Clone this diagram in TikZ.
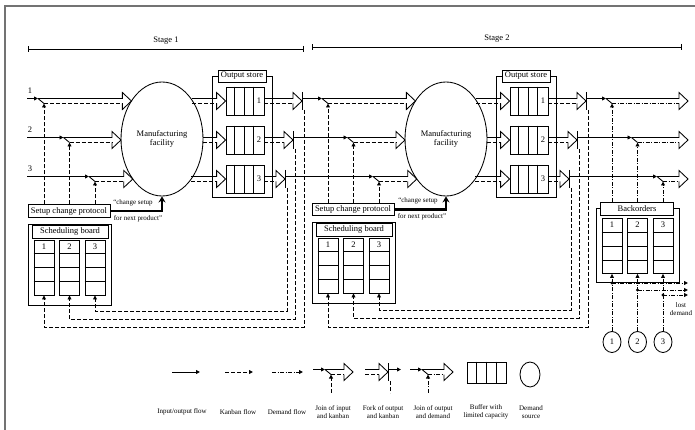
\documentclass[tikz,border=0pt]{standalone}
\usepackage{fontspec}
\setmainfont{Liberation Serif}
\usetikzlibrary{arrows.meta,positioning,calc,shapes.geometric}

% hollow double arrow: top line start, bottom line start, tip
\newcommand{\fatarrow}[4][kb]{%
  \draw[io] (#2) -- ($(#4)+(-9,-2.5)$) -- ($(#4)+(-9,-8.5)$) -- (#4)
    -- ($(#4)+(-9,8.5)$) -- ($(#4)+(-9,2.5)$);
  \draw[#1] (#3) -- ($(#4)+(-9,2.5)$);}

\begin{document}
\begin{tikzpicture}[x=1pt,y=-1pt,
  io/.style={line width=0.85pt},
  kb/.style={io,dash pattern=on 4pt off 2pt},
  dm/.style={io,dash pattern=on 4pt off 1.5pt on 1pt off 1.5pt},
  arr/.style={-{Triangle[length=4pt,width=3.8pt]}},
  setuparr/.style={line width=2.2pt,-{Stealth[length=6pt,width=7pt,inset=2pt]}},
  lbl/.style={font=\fontsize{8.5}{9.5}\selectfont,inner sep=1pt},
  note/.style={font=\fontsize{7}{8}\selectfont,inner sep=1pt,align=center},
  box/.style={draw,io,fill=white,lbl,inner sep=0pt},
  facility/.style={draw,io,ellipse,minimum width=82pt,minimum height=114pt,inner sep=0pt,align=center,lbl},
  buffer/.style={draw,io,minimum width=38pt,minimum height=28pt,inner sep=0pt},
  column/.style={draw,io,minimum width=20pt,minimum height=55pt,inner sep=0pt},
  source/.style={draw,io,ellipse,minimum width=18pt,minimum height=21pt,inner sep=0pt,lbl}
]
\useasboundingbox (0,0) rectangle (695,430);
\draw[line width=1.2pt,black!55] (5,430) -- (5,6) -- (695,6);

% stages
\draw[io,{Bar[width=6pt]}-{Bar[width=6pt]}] (28,49) -- node[lbl,above=3pt] (st1) {Stage 1} (304,49);
\draw[io,{Bar[width=6pt]}-{Bar[width=6pt]}] (312,47) -- node[lbl,above=3pt] (st2) {Stage 2} (682,47);

% manufacturing facilities
\node[facility] (mf1) at (162,139) {Manufacturing\\facility};
\node[facility] (mf2) at (446,139) {Manufacturing\\facility};

% output stores
\draw[io] (212,76) rectangle (272,197);
\draw[io] (496,76) rectangle (556,197);
\node[box,minimum width=48pt,minimum height=12pt] (os1) at (242,76) {Output store};
\node[box,minimum width=48pt,minimum height=12pt] (os2) at (526,76) {Output store};
\foreach \s/\x in {1/245,2/529} \foreach \i/\y in {1/101,2/140,3/179} {
  \node[buffer] (b\s\i) at (\x,\y) {};
  \foreach \f in {0.237,0.474,0.711}
    \draw[io] ($(b\s\i.north west)!\f!(b\s\i.north east)$) -- ($(b\s\i.south west)!\f!(b\s\i.south east)$);
  \node[lbl] (bn\s\i) at ($(b\s\i.east)+(-5.5,0)$) {\i};
}

% setup change protocols and boards
\node[box,minimum width=82pt,minimum height=12.5pt] (sc1) at (69,211) {Setup change protocol};
\node[box,minimum width=82pt,minimum height=12.5pt] (sc2) at (353,209.5) {Setup change protocol};
\draw[io] (28,224) rectangle (111,305);
\draw[io] (312,222) rectangle (395,303);
\draw[io] (596,208) rectangle (679,282);
\node[box,minimum width=76pt,minimum height=13pt] (sched1) at (70,231.5) {Scheduling board};
\node[box,minimum width=76pt,minimum height=13pt] (sched2) at (354,229.5) {Scheduling board};
\node[box,minimum width=73pt,minimum height=13pt] (bo) at (637,208.5) {Backorders};
\foreach \n/\x/\y in {ca/44/267.5, cb/328/265.5, cc/612/246} \foreach \i in {1,2,3} {
  \node[column] (\n\i) at (\x+25.5*\i-25.5,\y) {};
  \foreach \f in {0.255,0.5,0.75}
    \draw[io] ($(\n\i.north west)!\f!(\n\i.south west)$) -- ($(\n\i.north east)!\f!(\n\i.south east)$);
  \node[lbl] (\n n\i) at ($(\n\i.north)+(0,7)$) {\i};
}

% stage 1 flows
\foreach \i/\y/\c/\ta/\oa/\f/\h in {1/101/44/131.4/192/302/327, 2/140/69.5/121/203/293/319, 3/179/95/132.8/191/285/311} {
  \node[lbl] (in\i n) at (30,\y-10) {\i};
  \coordinate (in\i) at (27,\y-2.5);
  \coordinate (ja\i) at (\c-6,\y-2.5);
  \coordinate (ka\i) at (\c,\y+2.5);
  \coordinate (ta\i) at (\ta,\y);
  \coordinate (oa\i) at (\oa,\y);
  \coordinate (fa\i) at (\f,\y);
  \draw[io,arr] (in\i) -- (ja\i);
  \draw[io] (ja\i) -- (ka\i);
  \draw[kb,arr] (ka\i |- sc1.north) -- (ka\i);
  \fatarrow{ja\i}{ka\i}{ta\i}
  \fatarrow{$(oa\i)+(0,-2.5)$}{$(oa\i)+(0,2.5)$}{b1\i.west}
  \fatarrow{$(b1\i.east)+(0,-2.5)$}{$(b1\i.east)+(0,2.5)$}{fa\i}
  \draw[io] ($(fa\i)+(0,-9)$) -- ($(fa\i)+(0,9)$);
  \draw[kb,arr] ($(fa\i)+(2,9)$) -- (\f+2,\h) -| (ca\i.south);
}

% stage 2 flows
\foreach \i/\y/\c/\ta/\oa/\f/\h in {1/101/328/415.4/476/586/327, 2/140/353.5/405/487/577/318, 3/179/379/416.8/475/569/310} {
  \coordinate (jb\i) at (\c-6,\y-2.5);
  \coordinate (kk\i) at (\c,\y+2.5);
  \coordinate (tb\i) at (\ta,\y);
  \coordinate (ob\i) at (\oa,\y);
  \coordinate (fb\i) at (\f,\y);
  \coordinate (jc\i) at (\c+278,\y-2.5);
  \coordinate (kc\i) at (\c+284,\y+2.5);
  \coordinate (tc\i) at (688,\y);
  \draw[io,arr] ($(fa\i)+(0,-2.5)$) -- (jb\i);
  \draw[io] (jb\i) -- (kk\i);
  \draw[kb,arr] (kk\i |- sc2.north) -- (kk\i);
  \fatarrow{jb\i}{kk\i}{tb\i}
  \fatarrow{$(ob\i)+(0,-2.5)$}{$(ob\i)+(0,2.5)$}{b2\i.west}
  \fatarrow{$(b2\i.east)+(0,-2.5)$}{$(b2\i.east)+(0,2.5)$}{fb\i}
  \draw[io] ($(fb\i)+(0,-9)$) -- ($(fb\i)+(0,9)$);
  \draw[kb,arr] ($(fb\i)+(2,9)$) -- (\f+2,\h) -| (cb\i.south);
  \draw[io,arr] ($(fb\i)+(0,-2.5)$) -- (jc\i);
  \draw[io] (jc\i) -- (kc\i);
  \draw[dm,arr] (kc\i |- bo.north) -- (kc\i);
  \fatarrow[dm]{jc\i}{kc\i}{tc\i}
}

% demand sources and lost demand
\foreach \i/\x/\l in {1/612/283, 2/637.5/290, 3/663/295} {
  \node[source] (ds\i) at (\x,342) {\i};
  \draw[dm,arr] (ds\i.north) -- (cc\i.south);
  \coordinate (ld\i) at (\x,\l);
  \fill (ld\i) circle (1.7);
  \draw[dm,arr] (ld\i) -- (688,\l);
}
\node[note] (lost) at (681,309) {lost\\demand};

% setup changes
\draw[setuparr] (sc1.east) -| (mf1.south);
\node[note] (cs1) at (133,203) {“change setup};
\node[note] (np1) at (138,218.5) {for next product”};
\draw[setuparr] (sc2.east) -| (mf2.south);
\node[note] (cs2) at (418,201) {“change setup};
\node[note] (np2) at (422,216.5) {for next product”};

% legend
\coordinate (lio) at (172,372);
\draw[io,arr] (lio) -- ++(28,0);
\coordinate (lkb) at (225,372);
\draw[kb,arr] (lkb) -- ++(28,0);
\coordinate (ldm) at (272,372);
\draw[dm,arr] (ldm) -- ++(31,0);
\coordinate (lja) at (325,369.5);
\coordinate (lka) at (331,374.5);
\coordinate (lta) at (353,372);
\draw[io,arr] ($(lja)+(-12,0)$) -- (lja);
\draw[io] (lja) -- (lka);
\draw[kb,arr] ($(lka)+(0,18)$) -- (lka);
\fatarrow{lja}{lka}{lta}
\coordinate (lfa) at (388,372);
\fatarrow{$(lfa)+(-23,-2.5)$}{$(lfa)+(-23,2.5)$}{lfa}
\draw[io] ($(lfa)+(0,-9)$) -- ($(lfa)+(0,9)$);
\draw[io,arr] ($(lfa)+(0,-2.5)$) -- ++(13,0);
\draw[kb] ($(lfa)+(2,9)$) -- ++(0,12);
\coordinate (ljd) at (422,369.5);
\coordinate (lkd) at (428,374.5);
\coordinate (ltd) at (453,372);
\draw[io,arr] ($(ljd)+(-12,0)$) -- (ljd);
\draw[io] (ljd) -- (lkd);
\draw[dm,arr] ($(lkd)+(0,18)$) -- (lkd);
\fatarrow[dm]{ljd}{lkd}{ltd}
\node[buffer,minimum width=39pt,minimum height=21pt] (lbf) at (486.5,372.5) {};
\foreach \f in {0.25,0.5,0.75}
  \draw[io] ($(lbf.north west)!\f!(lbf.north east)$) -- ($(lbf.south west)!\f!(lbf.south east)$);
\node[source,minimum width=20pt,minimum height=25pt] (lds) at (530,374.5) {};
\node[note] (t1) at (182,412) {Input/output flow};
\node[note] (t2) at (238,412) {Kanban flow};
\node[note] (t3) at (287,412) {Demand flow};
\node[note] (t4) at (333,412) {Join of input\\and kanban};
\node[note] (t5) at (383,412) {Fork of output\\and kanban};
\node[note] (t6) at (433,412) {Join of output\\and demand};
\node[note] (t7) at (486,412) {Buffer with\\limited capacity};
\node[note] (t8) at (531,412) {Demand\\source};
\end{tikzpicture}
\end{document}
